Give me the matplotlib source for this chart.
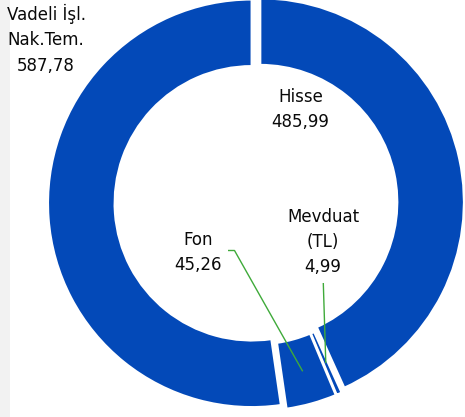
import matplotlib
matplotlib.use("Agg")
import matplotlib.pyplot as plt
from matplotlib.patches import Rectangle
import numpy as np

# ---- data ----
categories = ["Hisse", "Mevduat\n(TL)", "Fon", "Vadeli İşl.\nNak.Tem."]
values = [485.99, 4.99, 45.26, 587.78]

# ---- layout (pixel coords, y from top) ----
W, H = 465, 417
BLUE = "#0349B8"
GREEN = "#3FAA3A"
CX, CY = 256, 203
R_OUT = 204
RING = 67
EXPL = 4.2
label_pos = [(300.5, 101.5), (323, 221.5), (198, 245), (46, 19.5)]
LINE_STEP = 25.5

def Y(y):
    return H - y

fig = plt.figure(figsize=(W / 100, H / 100), dpi=100)
ax = fig.add_axes([0, 0, 1, 1])
ax.add_patch(Rectangle((0, 0), 10, H, facecolor="#F2F2F2", edgecolor="none", zorder=0))

wedges, _ = ax.pie(
    values,
    colors=[BLUE] * len(values),
    startangle=90,
    counterclock=False,
    radius=R_OUT,
    center=(CX, Y(CY)),
    explode=[EXPL] * len(values),
    wedgeprops=dict(width=RING, edgecolor="white", linewidth=1.8),
    frame=True,
)
ax.set_xlim(0, W)
ax.set_ylim(0, H)
ax.set_aspect("equal")
ax.axis("off")

# labels
for (x, y0), cat, v in zip(label_pos, categories, values):
    lines = cat.split("\n") + [f"{v:.2f}".replace(".", ",")]
    for i, ln in enumerate(lines):
        ax.text(x, Y(y0 + i * LINE_STEP), ln, ha="center", va="baseline",
                fontsize=12, family="DejaVu Sans", color="#0A0A0A")

def mid_point(w):
    th = np.deg2rad((w.theta1 + w.theta2) / 2)
    r = w.r - w.width / 2
    return w.center[0] + r * np.cos(th), w.center[1] + r * np.sin(th)

# leader lines
fx, fy = mid_point(wedges[2])
ax.plot([228, 234.5, fx], [Y(250.5), Y(250.5), fy], color=GREEN, lw=1.0, solid_capstyle="butt")
mx, my = mid_point(wedges[1])
ax.plot([323.3, mx], [Y(283), my], color=GREEN, lw=1.0, solid_capstyle="butt")

fig.savefig("out.png", dpi=100)
